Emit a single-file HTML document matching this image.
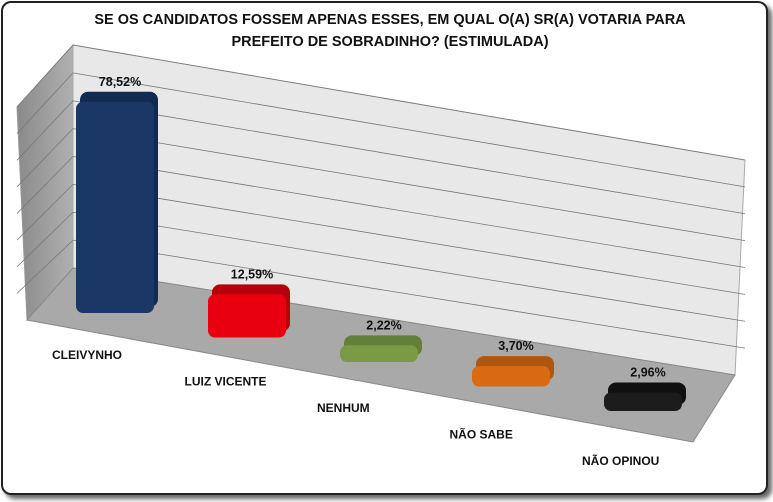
<!DOCTYPE html>
<html><head><meta charset="utf-8"><style>
body{margin:0;background:#fff;width:773px;height:502px;overflow:hidden;font-family:"Liberation Sans",Arial,sans-serif}
#frame{position:absolute;left:1px;top:1px;width:763px;height:490px;border:2px solid #222;border-radius:10px;box-shadow:4px 4px 5px #666;background:#fff}
svg{position:absolute;left:0;top:0}
</style></head><body>
<div id="frame"></div>
<svg width="773" height="502">
<defs>
<linearGradient id="lw" x1="0" x2="1"><stop offset="0" stop-color="#8a8a8a"/><stop offset="1" stop-color="#b0b0b0"/></linearGradient>
</defs>
<text x="390" y="24" text-anchor="middle" font-weight="bold" font-size="14.5" fill="#111">SE OS CANDIDATOS FOSSEM APENAS ESSES, EM QUAL O(A) SR(A) VOTARIA PARA</text>
<text x="390" y="46" text-anchor="middle" font-weight="bold" font-size="14.5" fill="#111">PREFEITO DE SOBRADINHO? (ESTIMULADA)</text>
<polygon points="17,107 73,45 73,268 27,320" fill="url(#lw)" stroke="#999"/>
<polygon points="73,45 745,160 735,375 73,268" fill="#e8e8e8" stroke="#aaa"/>
<polygon points="73,268 735,375 693,442 27,320" fill="#a9a9a9" stroke="#888"/>
<g id="grid"></g>
<g id="bars"></g>
</svg>
<script>
const categories=["CLEIVYNHO","LUIZ VICENTE","NENHUM","NÃO SABE","NÃO OPINOU"];
const values=[78.52,12.59,2.22,3.70,2.96];
const labels=["78,52%","12,59%","2,22%","3,70%","2,96%"];
const colors=["#1a3766","#e8000f","#7c9a45","#d96a12","#1c1c1c"];
const sides=["#132a50","#b5000b","#62803a","#b0560e","#101010"];
const gridTicks=[0,10,20,30,40,50,60,70,80];
const NS="http://www.w3.org/2000/svg";
const yMax=80;
function gy(v,x){const t=(x-73)/(745-73);const top=45+115*t,bot=268+107*t;return bot-(bot-top)*v/yMax;}
function sy(v,x){const t=(x-17)/(73-17);const top=107-62*t,bot=320-52*t;return bot-(bot-top)*v/yMax;}
const grid=document.getElementById('grid');
gridTicks.forEach(v=>{if(v===0)return;
 const l=document.createElementNS(NS,'polyline');
 l.setAttribute('points',`17,${sy(v,17)} 73,${gy(v,73)} 745,${gy(v,745)}`);
 l.setAttribute('fill','none');l.setAttribute('stroke','#777');l.setAttribute('stroke-width','0.8');
 
 
 grid.appendChild(l);});
const bars=document.getElementById('bars');
const k=2.55;
function bx(i){return 76+i*132;}
function by(i){return 313+i*24.5;}
categories.forEach((c,i)=>{
 const x=bx(i),b=by(i),h=values[i]*k+7,w=78;
 const back=document.createElementNS(NS,'rect');
 back.setAttribute('x',x+4);back.setAttribute('y',b-h-14);back.setAttribute('width',w);back.setAttribute('height',h+8);
 back.setAttribute('rx',8);back.setAttribute('fill',sides[i]);
 
 
 bars.appendChild(back);
 const r=document.createElementNS(NS,'rect');
 r.setAttribute('x',x);r.setAttribute('y',b-h-4);r.setAttribute('width',w);r.setAttribute('height',h+4);
 r.setAttribute('rx',7);r.setAttribute('fill',colors[i]);
 
 
 bars.appendChild(r);
 const t=document.createElementNS(NS,'text');
 t.setAttribute('x',x+44);t.setAttribute('y',b-h-20);t.setAttribute('text-anchor','middle');
 t.setAttribute('font-size','12.5');t.setAttribute('font-weight','bold');t.setAttribute('fill','#111');
 t.textContent=labels[i];
 
 
 bars.appendChild(t);
 const cl=document.createElementNS(NS,'text');
 cl.setAttribute('x',52+i*132.5);cl.setAttribute('y',359+i*26.5);
 cl.setAttribute('font-size','12');cl.setAttribute('font-weight','bold');cl.setAttribute('fill','#111');
 cl.textContent=c;
 
 
 bars.appendChild(cl);
});
</script>
</body></html>
